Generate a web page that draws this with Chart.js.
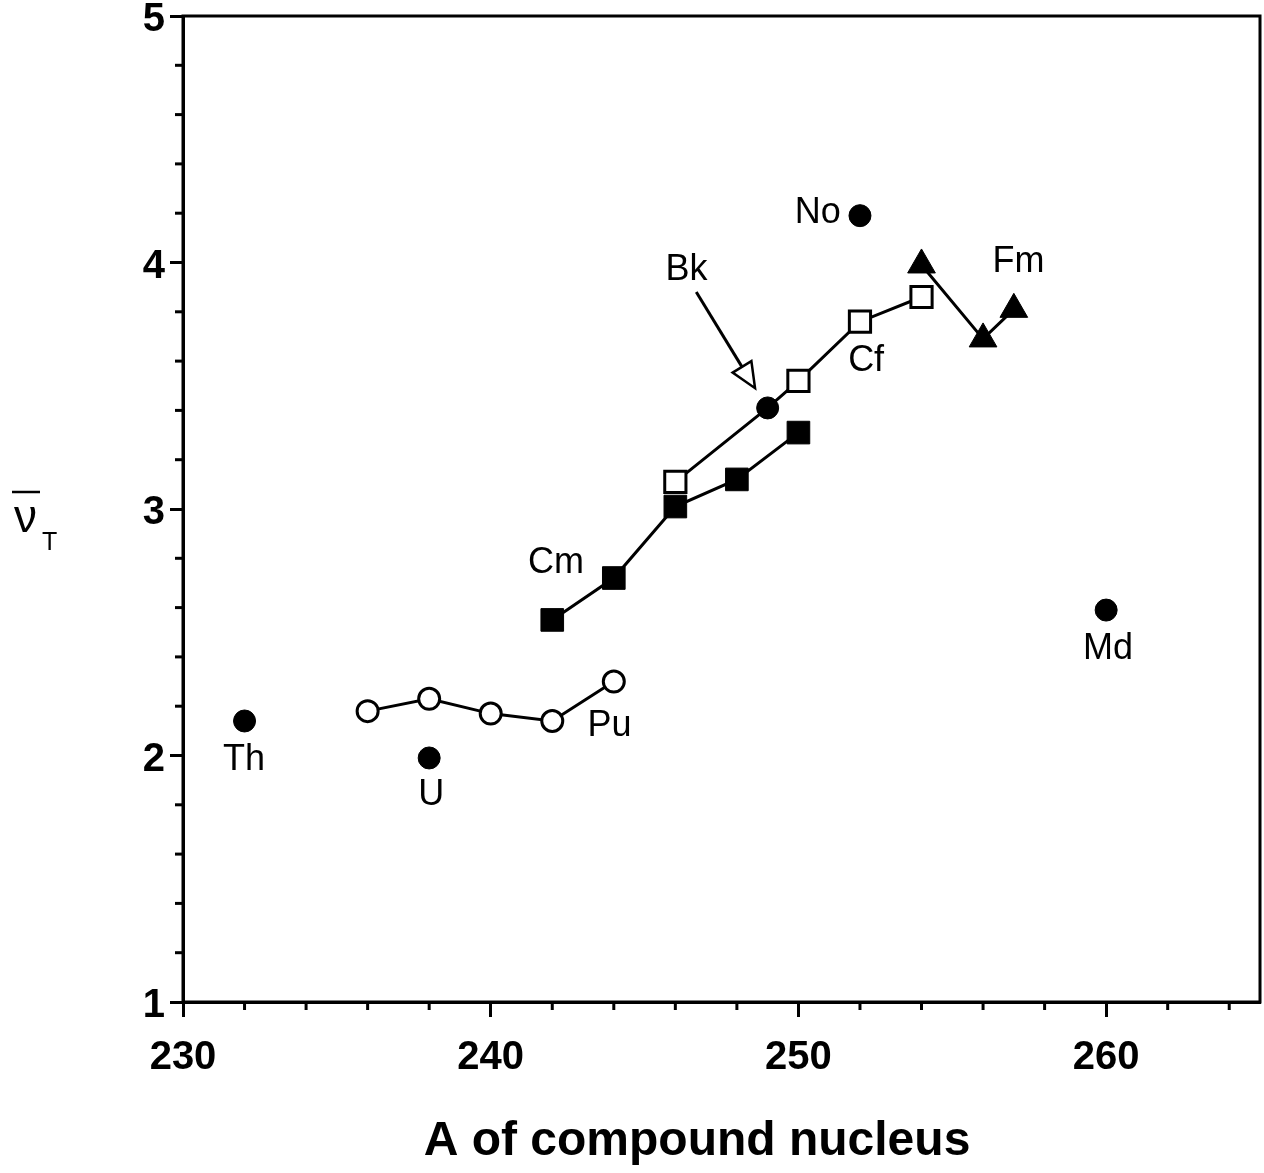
<!DOCTYPE html>
<html>
<head>
<meta charset="utf-8">
<script src="https://cdn.jsdelivr.net/npm/chart.js@4.4.1/dist/chart.umd.min.js"></script>
<style>
  body { margin: 0; background: #fff; }
  canvas { display: block; }
</style>
</head>
<body>
<canvas id="nuChart" width="1264" height="1173"></canvas>
<script>
// mean total neutron number vs mass of compound nucleus
const puA = [236, 238, 240, 242, 244];
const puNu = [2.18, 2.23, 2.17, 2.14, 2.30];

const cmA = [242, 244, 246, 248, 250];
const cmNu = [2.55, 2.72, 3.01, 3.12, 3.31];

const cfA = [246, 250, 252, 254];
const cfNu = [3.11, 3.52, 3.76, 3.86];

const bkA = [249];
const bkNu = [3.41];

const fmA = [254, 256, 257];
const fmNu = [3.99, 3.69, 3.81];

// Th, U, No, Md
const singleA = [232, 238, 252, 260];
const singleNu = [2.14, 1.99, 4.19, 2.59];

const xTicks = [230, 240, 250, 260];
const yTicks = [1, 2, 3, 4, 5];

const labelText = ['No', 'Bk', 'Fm', 'Cf', 'Cm', 'Md', 'Th', 'U', 'Pu'];
const labelA = [250.63, 246.36, 257.15, 252.2, 242.12, 260.06, 231.98, 238.07, 243.86];
const labelNu = [4.20, 3.97, 4.00, 3.60, 2.78, 2.43, 1.98, 1.84, 2.12];

const arrowFrom = [246.68, 3.88];
const arrowTo = [248.59, 3.49];

const FONT = "'Liberation Sans', Arial, Helvetica, sans-serif";

const pts = (xs, ys) => xs.map((v, i) => ({x: v, y: ys[i]}));

// Cf line goes through the Bk point
const cfLine = pts(cfA.concat(bkA), cfNu.concat(bkNu)).sort((a, b) => a.x - b.x);

const overlay = {
    id: 'overlay',
    afterDraw(chart) {
        const {ctx, chartArea: area} = chart;
        const x = chart.scales.x;
        const y = chart.scales.y;

        ctx.save();
        ctx.strokeStyle = '#000';
        ctx.fillStyle = '#000';
        ctx.lineWidth = 3;

        // frame
        ctx.strokeRect(area.left, area.top, area.right - area.left, area.bottom - area.top);

        // minor ticks
        for (let v = x.min + 2; v < x.max; v += 2) {
            if (v % 10 === 0) continue;
            const px = x.getPixelForValue(v);
            ctx.beginPath();
            ctx.moveTo(px, area.bottom);
            ctx.lineTo(px, area.bottom + 8);
            ctx.stroke();
        }
        for (let k = 1; k < 20; k++) {
            if (k % 5 === 0) continue;
            const py = y.getPixelForValue(y.min + k * 0.2);
            ctx.beginPath();
            ctx.moveTo(area.left, py);
            ctx.lineTo(area.left - 8, py);
            ctx.stroke();
        }

        // element labels
        ctx.font = '36px ' + FONT;
        ctx.textAlign = 'center';
        ctx.textBaseline = 'middle';
        labelText.forEach((t, i) => {
            ctx.fillText(t, x.getPixelForValue(labelA[i]), y.getPixelForValue(labelNu[i]));
        });

        // Bk arrow
        const x0 = x.getPixelForValue(arrowFrom[0]);
        const y0 = y.getPixelForValue(arrowFrom[1]);
        const x1 = x.getPixelForValue(arrowTo[0]);
        const y1 = y.getPixelForValue(arrowTo[1]);
        const ang = Math.atan2(y1 - y0, x1 - x0);
        const hl = 25, hw = 11;
        const bx = x1 - hl * Math.cos(ang);
        const by = y1 - hl * Math.sin(ang);
        ctx.beginPath();
        ctx.moveTo(x0, y0);
        ctx.lineTo(bx, by);
        ctx.stroke();
        ctx.beginPath();
        ctx.moveTo(x1, y1);
        ctx.lineTo(bx + hw * Math.sin(ang), by - hw * Math.cos(ang));
        ctx.lineTo(bx - hw * Math.sin(ang), by + hw * Math.cos(ang));
        ctx.closePath();
        ctx.fillStyle = '#fff';
        ctx.fill();
        ctx.lineWidth = 2.5;
        ctx.stroke();
        ctx.fillStyle = '#000';

        // y title: nu-bar with subscript T
        const midY = (area.top + area.bottom) / 2;
        ctx.textAlign = 'left';
        ctx.textBaseline = 'alphabetic';
        ctx.font = '46px ' + FONT;
        ctx.fillText('\u03BD', 14, midY + 23);
        ctx.lineWidth = 2.5;
        ctx.beginPath();
        ctx.moveTo(12, midY - 17);
        ctx.lineTo(40, midY - 17);
        ctx.stroke();
        ctx.font = '25px ' + FONT;
        ctx.fillText('T', 42, midY + 41);

        // x title
        ctx.font = 'bold 48px ' + FONT;
        ctx.textAlign = 'center';
        ctx.textBaseline = 'middle';
        ctx.fillText('A of compound nucleus', 697, 1142);

        ctx.restore();
    }
};

const ctx = document.getElementById('nuChart');

new Chart(ctx, {
    type: 'scatter',
    data: {
        datasets: [
            {
                label: 'Th, U, No, Md',
                data: pts(singleA, singleNu),
                pointStyle: 'circle',
                pointRadius: 11,
                backgroundColor: '#000',
                borderColor: '#000',
                pointBorderWidth: 1
            },
            {
                label: 'Bk',
                data: pts(bkA, bkNu),
                pointStyle: 'circle',
                pointRadius: 11,
                backgroundColor: '#000',
                borderColor: '#000',
                pointBorderWidth: 1
            },
            {
                label: 'Cf',
                data: pts(cfA, cfNu),
                pointStyle: 'rect',
                pointRadius: 15,
                backgroundColor: '#fff',
                borderColor: '#000',
                pointBorderWidth: 3
            },
            {
                label: 'Pu',
                data: pts(puA, puNu),
                showLine: true,
                borderWidth: 3,
                pointStyle: 'circle',
                pointRadius: 10.5,
                backgroundColor: '#fff',
                borderColor: '#000',
                pointBorderWidth: 3
            },
            {
                label: 'Cm',
                data: pts(cmA, cmNu),
                showLine: true,
                borderWidth: 3,
                pointStyle: 'rect',
                pointRadius: 16,
                backgroundColor: '#000',
                borderColor: '#000',
                pointBorderWidth: 1
            },
            {
                label: 'Fm',
                data: pts(fmA, fmNu),
                showLine: true,
                borderWidth: 3,
                pointStyle: 'triangle',
                pointRadius: 16,
                backgroundColor: '#000',
                borderColor: '#000',
                pointBorderWidth: 1
            },
            {
                label: 'Cf line',
                data: cfLine,
                showLine: true,
                borderWidth: 3,
                borderColor: '#000',
                pointRadius: 0
            }
        ]
    },
    options: {
        responsive: false,
        animation: false,
        layout: {
            autoPadding: false,
            padding: {top: 16, right: 4, left: 0, bottom: 0}
        },
        plugins: {
            legend: {display: false},
            tooltip: {enabled: false}
        },
        scales: {
            x: {
                type: 'linear',
                min: 230,
                max: 265,
                afterBuildTicks: s => { s.ticks = xTicks.map(v => ({value: v})); },
                afterFit: s => { s.height = 171; s.paddingLeft = 0; s.paddingRight = 0; },
                border: {display: true, color: '#000', width: 3},
                grid: {drawOnChartArea: false, tickLength: 15, tickWidth: 3, tickColor: '#000'},
                ticks: {
                    color: '#000',
                    padding: 17,
                    maxRotation: 0,
                    font: {family: FONT, size: 40, weight: 'bold'}
                }
            },
            y: {
                type: 'linear',
                min: 1,
                max: 5,
                afterBuildTicks: s => { s.ticks = yTicks.map(v => ({value: v})); },
                afterFit: s => { s.width = 183; s.paddingTop = 0; s.paddingBottom = 0; },
                border: {display: true, color: '#000', width: 3},
                grid: {drawOnChartArea: false, tickLength: 13, tickWidth: 3, tickColor: '#000'},
                ticks: {
                    color: '#000',
                    padding: 5,
                    labelOffset: 4,
                    font: {family: FONT, size: 40, weight: 'bold'}
                }
            }
        }
    },
    plugins: [overlay]
});
</script>
</body>
</html>
